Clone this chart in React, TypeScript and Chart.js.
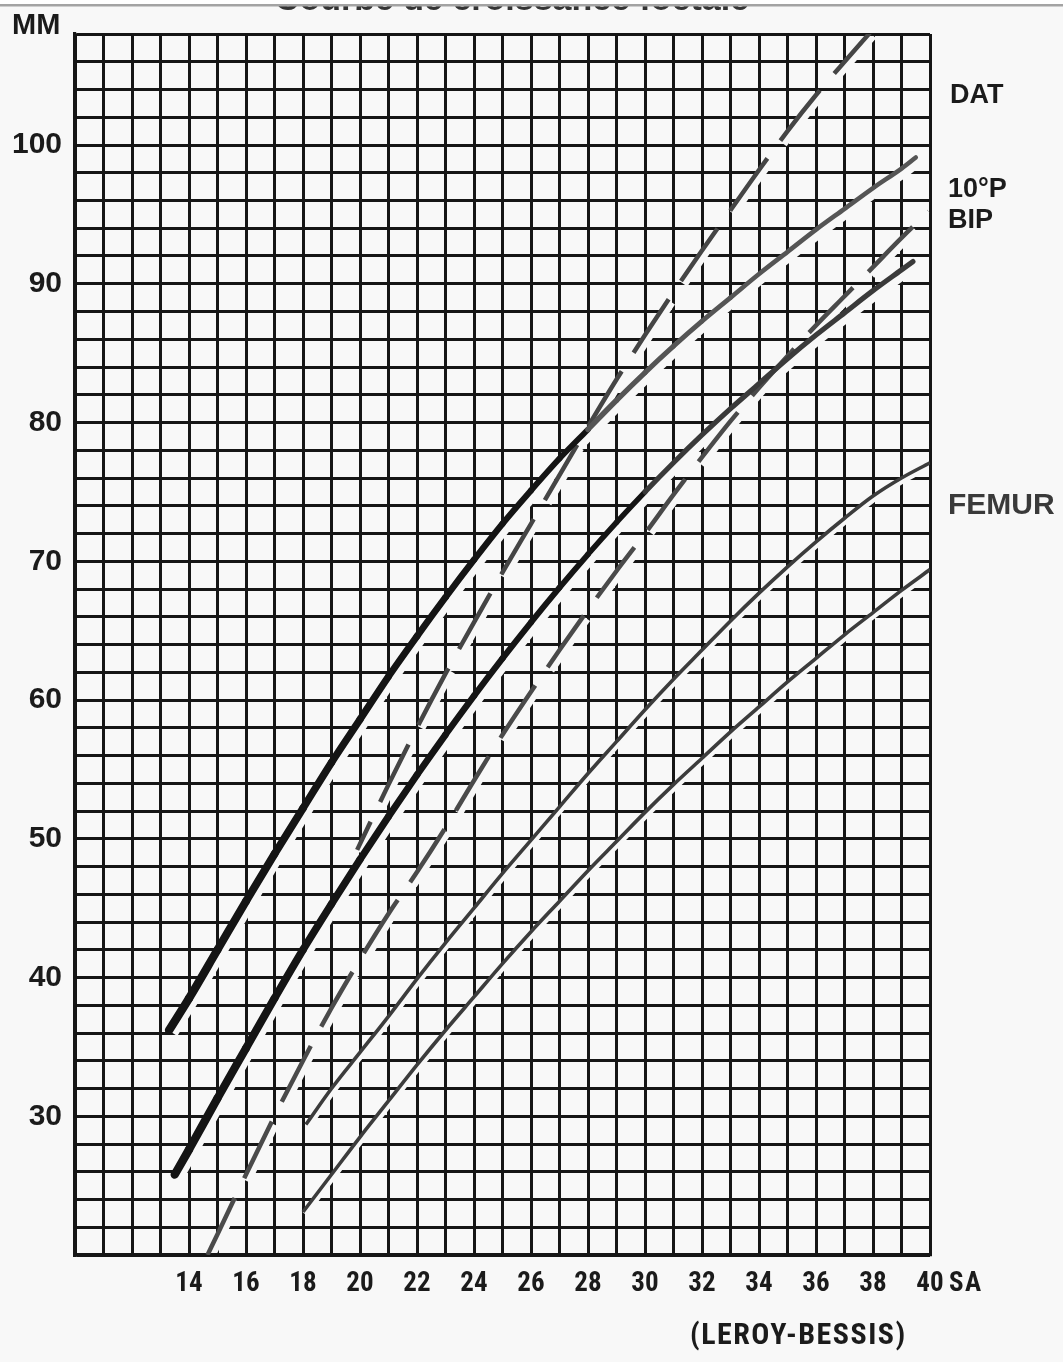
import React, { useEffect, useRef } from 'react';
import { Chart, registerables } from 'chart.js';

Chart.register(...registerables);

// ---------- text ----------
const TITLE = 'Courbe de croissance foetale';
const Y_UNIT = 'MM';
const X_UNIT = 'SA';
const SOURCE = '(LEROY-BESSIS)';
const LABEL_DAT = 'DAT';
const LABEL_10P = '10°P';
const LABEL_BIP = 'BIP';
const LABEL_FEMUR = 'FEMUR';

// ---------- axes ----------
const X_MIN = 10;
const X_MAX = 40;
const Y_MIN = 20;
const Y_MAX = 108;
const X_LABELED_TICKS = [14, 16, 18, 20, 22, 24, 26, 28, 30, 32, 34, 36, 38, 40];
const Y_LABELED_TICKS = [30, 40, 50, 60, 70, 80, 90, 100];

// ---------- series (weeks SA -> mm) ----------
const bipUpperWeeks = [13.3, 14, 15, 16, 17, 18, 19, 20, 21, 22, 23, 24, 25, 26, 27, 28, 29, 30, 31, 32, 33, 34, 35, 36, 37, 38, 39, 39.5];
const bipUpperMm = [36.2, 38.5, 42.0, 45.5, 48.9, 52.2, 55.5, 58.6, 61.7, 64.6, 67.4, 70.1, 72.7, 75.1, 77.4, 79.5, 81.6, 83.6, 85.5, 87.3, 89.0, 90.7, 92.3, 93.9, 95.4, 96.9, 98.3, 99.1];

const bipLowerWeeks = [13.5, 14, 15, 16, 17, 18, 19, 20, 21, 22, 23, 24, 25, 26, 27, 28, 29, 30, 31, 32, 33, 34, 35, 36, 37, 38, 39, 39.4];
const bipLowerMm = [25.8, 27.6, 31.3, 34.9, 38.5, 42.0, 45.3, 48.5, 51.6, 54.6, 57.5, 60.3, 63.0, 65.6, 68.1, 70.5, 72.8, 75.0, 77.1, 79.1, 81.0, 82.8, 84.6, 86.3, 87.9, 89.5, 91.0, 91.6];

const datUpperWeeks = [19.9, 21, 22, 23, 24, 25, 26, 27, 28, 29, 30, 31, 32, 33, 34, 35, 36, 37, 37.9];
const datUpperMm = [49.2, 53.9, 58.0, 61.9, 65.6, 69.2, 72.7, 76.2, 79.7, 83.1, 86.3, 89.4, 92.4, 95.3, 98.2, 101.0, 103.6, 106.0, 108.1];

const datLowerWeeks = [14.65, 15, 16, 17, 18, 19, 20, 21, 22, 23, 24, 25, 26, 27, 28, 29, 30, 31, 32, 33, 34, 35, 36, 37, 38, 39, 39.95];
const datLowerMm = [20.0, 21.5, 25.8, 30.0, 34.0, 37.8, 41.3, 44.6, 47.6, 50.8, 54.2, 57.5, 60.6, 63.6, 66.5, 69.3, 72.0, 74.8, 77.5, 80.1, 82.5, 84.8, 87.0, 89.1, 91.2, 93.3, 95.2];

const femurUpperWeeks = [18.1, 19, 20, 21, 22, 23, 24, 25, 26, 27, 28, 29, 30, 31, 32, 33, 34, 35, 36, 37, 38, 39, 40];
const femurUpperMm = [29.4, 32.0, 34.6, 37.2, 39.9, 42.5, 45.0, 47.5, 49.9, 52.3, 54.7, 57.0, 59.3, 61.5, 63.6, 65.7, 67.7, 69.6, 71.4, 73.1, 74.7, 76.0, 77.1];

const femurLowerWeeks = [18, 19, 20, 21, 22, 23, 24, 25, 26, 27, 28, 29, 30, 31, 32, 33, 34, 35, 36, 37, 38, 39, 40];
const femurLowerMm = [23.1, 25.8, 28.5, 31.1, 33.7, 36.2, 38.6, 41.0, 43.3, 45.5, 47.7, 49.8, 51.9, 53.9, 55.8, 57.7, 59.5, 61.3, 63.0, 64.7, 66.3, 67.9, 69.4];

// ---------- styles ----------
const BG = '#f8f8f8';
const INK = '#1b1b1b';
const GRID = '#161616';
const SANS = "'Liberation Sans', Arial, Helvetica, sans-serif";

const toPoints = (xs: number[], ys: number[]) => xs.map((x, i) => ({ x, y: ys[i] }));

// find an installed condensed face, if any
function pickCondensed(): string | null {
  const c = document.createElement('canvas').getContext('2d');
  if (!c) return null;
  const s = '0123456789 LEROY-BESSIS SA';
  c.font = 'bold 40px monospace';
  const wm = c.measureText(s).width;
  const cands = ['Liberation Sans Narrow', 'Arial Narrow', 'Roboto Condensed', 'DejaVu Sans Condensed', 'Open Sans Condensed'];
  for (const f of cands) {
    c.font = `bold 40px '${f}', monospace`;
    const a = c.measureText(s).width;
    c.font = `bold 40px '${f}', serif`;
    const b = c.measureText(s).width;
    if (Math.abs(a - b) < 0.01 && Math.abs(a - wm) > 0.5) return f;
  }
  return null;
}

export default function App() {
  const canvasRef = useRef<HTMLCanvasElement | null>(null);

  useEffect(() => {
    const canvas = canvasRef.current;
    if (!canvas) return;

    const cond = pickCondensed();
    const NARROW = cond ? `'${cond}', ${SANS}` : SANS;
    const narrowSize = cond ? 27 : 23;
    const sourceSize = cond ? 30 : 23;
    const sourceSpacing = cond ? '1.5px' : '0px';

    const bgPlugin = {
      id: 'bgFill',
      beforeDraw(chart: any) {
        const { ctx, width, height } = chart;
        ctx.save();
        ctx.fillStyle = BG;
        ctx.fillRect(0, 0, width, height);
        ctx.restore();
      },
    };

    const haloPlugin = {
      id: 'halo',
      beforeDatasetsDraw(chart: any) {
        const { ctx, chartArea } = chart;
        ctx.save();
        ctx.beginPath();
        ctx.rect(chartArea.left + 2, chartArea.top + 2, chartArea.right - chartArea.left - 4, chartArea.bottom - chartArea.top - 4);
        ctx.clip();
        chart.data.datasets.forEach((ds: any, i: number) => {
          const h = ds.halo;
          if (!h) return;
          const meta = chart.getDatasetMeta(i);
          ctx.save();
          ctx.translate(h.dx, h.dy);
          ctx.strokeStyle = BG;
          ctx.lineWidth = h.width;
          ctx.lineCap = 'butt';
          ctx.setLineDash(ds.borderDash || []);
          ctx.lineDashOffset = ds.borderDashOffset || 0;
          ctx.beginPath();
          meta.data.forEach((p: any, j: number) => (j ? ctx.lineTo(p.x, p.y) : ctx.moveTo(p.x, p.y)));
          ctx.stroke();
          ctx.restore();
        });
        ctx.restore();
      },
    };

    const textPlugin = {
      id: 'texts',
      afterDraw(chart: any) {
        const { ctx, width } = chart;
        ctx.save();
        // title, cut off by the top edge of the scan
        ctx.fillStyle = '#333333';
        ctx.textAlign = 'center';
        ctx.textBaseline = 'alphabetic';
        ctx.font = `bold 34px ${SANS}`;
        ctx.fillText(TITLE, 512, 10);
        ctx.fillStyle = '#ffffff';
        ctx.fillRect(0, 0, width, 4);
        ctx.fillStyle = '#a3a3a3';
        ctx.fillRect(0, 4, width, 2.5);

        ctx.fillStyle = INK;
        ctx.textAlign = 'left';
        ctx.textBaseline = 'middle';
        ctx.font = `bold 29px ${SANS}`;
        ctx.fillText(Y_UNIT, 12, 26);

        ctx.font = `bold ${narrowSize}px ${NARROW}`;
        (ctx as any).letterSpacing = '1.5px';
        ctx.fillText(X_UNIT, 949, 1284);
        ctx.font = `bold ${sourceSize}px ${NARROW}`;
        (ctx as any).letterSpacing = sourceSpacing;
        ctx.fillText(SOURCE, 690, 1336);
        (ctx as any).letterSpacing = '0px';

        ctx.font = `bold 27px ${SANS}`;
        ctx.fillText(LABEL_DAT, 950, 96);
        ctx.fillText(LABEL_10P, 948, 190);
        ctx.fillText(LABEL_BIP, 948, 221);
        ctx.fillStyle = '#3a3a3a';
        ctx.font = `bold 30px ${SANS}`;
        ctx.fillText(LABEL_FEMUR, 948, 506);
        ctx.restore();
      },
    };

    const thick = (limit: number, dark: string, light: string, w0: number, w1: number) => ({
      borderColor: (c: any) => (c.p0.parsed.x < limit ? dark : light),
      borderWidth: (c: any) => Math.max(w1, w0 - 0.2 * (c.p0.parsed.x - 13)),
    });

    const chart = new Chart(canvas, {
      type: 'line',
      data: {
        datasets: [
          {
            label: 'BIP 90',
            data: toPoints(bipUpperWeeks, bipUpperMm),
            borderColor: '#141414',
            borderWidth: 8,
            borderCapStyle: 'round',
            borderJoinStyle: 'round',
            cubicInterpolationMode: 'monotone',
            pointRadius: 0,
            segment: thick(28, '#141414', '#555555', 8.5, 4.6),
            halo: { dx: 4, dy: 3, width: 10 },
          } as any,
          {
            label: 'BIP 10',
            data: toPoints(bipLowerWeeks, bipLowerMm),
            borderColor: '#141414',
            borderWidth: 8,
            borderCapStyle: 'round',
            borderJoinStyle: 'round',
            cubicInterpolationMode: 'monotone',
            pointRadius: 0,
            segment: thick(30, '#141414', '#3a3a3a', 8.5, 5.2),
            halo: { dx: 4, dy: 3, width: 10 },
          } as any,
          {
            label: 'DAT 90',
            data: toPoints(datUpperWeeks, datUpperMm),
            borderColor: '#454545',
            borderWidth: 4.5,
            borderDash: [64, 22],
            borderDashOffset: 33,
            cubicInterpolationMode: 'monotone',
            pointRadius: 0,
            halo: { dx: 3, dy: 3, width: 8 },
          } as any,
          {
            label: 'DAT 10',
            data: toPoints(datLowerWeeks, datLowerMm),
            borderColor: '#4a4a4a',
            borderWidth: 4.5,
            borderDash: [63, 22],
            borderDashOffset: 0,
            cubicInterpolationMode: 'monotone',
            pointRadius: 0,
            halo: { dx: 3, dy: 3, width: 8 },
          } as any,
          {
            label: 'FEMUR 90',
            data: toPoints(femurUpperWeeks, femurUpperMm),
            borderColor: '#3c3c3c',
            borderWidth: 3.6,
            cubicInterpolationMode: 'monotone',
            pointRadius: 0,
            halo: { dx: 2, dy: 2, width: 6 },
          } as any,
          {
            label: 'FEMUR 10',
            data: toPoints(femurLowerWeeks, femurLowerMm),
            borderColor: '#3c3c3c',
            borderWidth: 3.6,
            cubicInterpolationMode: 'monotone',
            pointRadius: 0,
            halo: { dx: 2, dy: 2, width: 6 },
          } as any,
        ],
      },
      options: {
        responsive: false,
        animation: false,
        devicePixelRatio: 1,
        layout: { padding: { left: 0, top: 34, right: 133, bottom: 0 } },
        plugins: { legend: { display: false }, tooltip: { enabled: false }, title: { display: false } },
        scales: {
          x: {
            type: 'linear',
            min: X_MIN,
            max: X_MAX,
            position: 'bottom',
            afterFit: (s: any) => {
              s.height = 107;
            },
            ticks: {
              stepSize: 1,
              autoSkip: false,
              maxRotation: 0,
              padding: 13,
              color: INK,
              font: { family: NARROW, size: narrowSize, weight: 'bold' },
              callback: (v: any) => (X_LABELED_TICKS.includes(Number(v)) ? String(v) : ''),
            },
            grid: { color: GRID, lineWidth: 3, drawTicks: false },
            border: { display: true, color: GRID, width: 3.2 },
          },
          y: {
            type: 'linear',
            min: Y_MIN,
            max: Y_MAX,
            afterFit: (s: any) => {
              s.width = 75;
            },
            ticks: {
              stepSize: 2,
              autoSkip: false,
              padding: 13,
              color: INK,
              font: { family: SANS, size: 30, weight: 'bold' },
              callback: (v: any) => (Y_LABELED_TICKS.includes(Number(v)) ? String(v) : ''),
            },
            grid: { color: GRID, lineWidth: 3, drawTicks: false },
            border: { display: true, color: GRID, width: 3.2 },
          },
        },
      } as any,
      plugins: [bgPlugin, haloPlugin, textPlugin],
    });

    return () => chart.destroy();
  }, []);

  return (
    <div style={{ position: 'absolute', left: 0, top: 0, width: 1063, height: 1362, background: BG }}>
      <canvas ref={canvasRef} width={1063} height={1362} style={{ display: 'block', width: 1063, height: 1362 }} />
    </div>
  );
}
